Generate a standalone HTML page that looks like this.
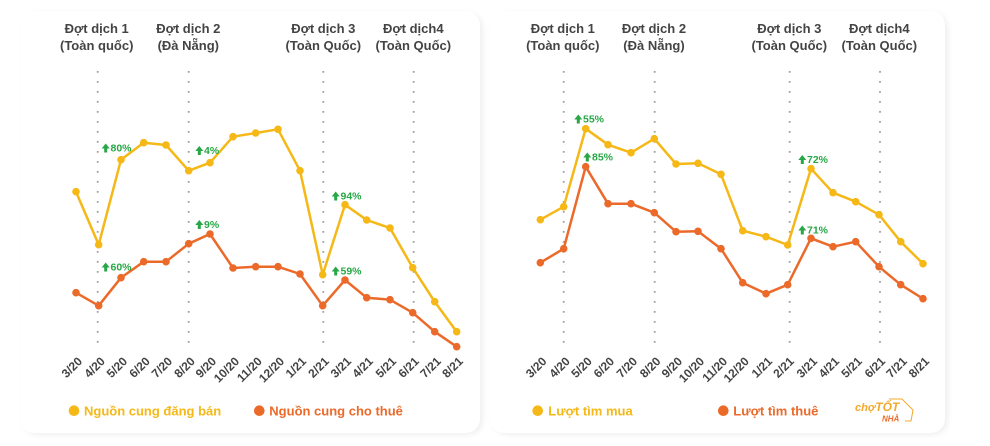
<!DOCTYPE html>
<html><head><meta charset="utf-8">
<style>
html,body{margin:0;padding:0;background:#fff;}
body{width:990px;height:446px;position:relative;overflow:hidden;font-family:"Liberation Sans","Noto Sans CJK SC",sans-serif;}
.card{position:absolute;background:#fff;border-radius:14px;box-shadow:3px 2px 7px -1px rgba(0,0,0,0.08);}
svg{position:absolute;left:0;top:0;}
</style></head>
<body>
<div class="card" style="left:20px;top:11px;width:460px;height:422px;"></div>
<div class="card" style="left:490px;top:11px;width:455px;height:422px;"></div>
<svg width="990" height="446" viewBox="0 0 990 446" xmlns="http://www.w3.org/2000/svg">
<defs>
<g id="up"><path d="M0,0 L4,-5 L8,0 L5.5,0 L5.5,4 L2.5,4 L2.5,0 Z" fill="#27a745"/></g>
</defs>
<g font-family="Liberation Sans, sans-serif" font-weight="bold" font-size="13" fill="#444" text-anchor="middle">
<text x="96.7" y="33">Đợt dịch 1</text><text x="96.7" y="50">(Toàn quốc)</text>
<text x="188.3" y="33">Đợt dịch 2</text><text x="188.3" y="50">(Đà Nẵng)</text>
<text x="323.3" y="33">Đợt dịch 3</text><text x="323.3" y="50">(Toàn Quốc)</text>
<text x="413.3" y="33">Đợt dịch4</text><text x="413.3" y="50">(Toàn Quốc)</text>
<text x="562.8" y="33">Đợt dịch 1</text><text x="562.8" y="50">(Toàn quốc)</text>
<text x="654" y="33">Đợt dịch 2</text><text x="654" y="50">(Đà Nẵng)</text>
<text x="789.3" y="33">Đợt dịch 3</text><text x="789.3" y="50">(Toàn Quốc)</text>
<text x="879.3" y="33">Đợt dịch4</text><text x="879.3" y="50">(Toàn Quốc)</text>
</g>
<g stroke="#a0a0a0" stroke-width="1.8" stroke-dasharray="1.8 8.2" fill="none">
<line x1="97.7" y1="71" x2="97.7" y2="348"/>
<line x1="188.7" y1="71" x2="188.7" y2="348"/>
<line x1="323.3" y1="71" x2="323.3" y2="348"/>
<line x1="413.7" y1="71" x2="413.7" y2="348"/>
<line x1="563.7" y1="71" x2="563.7" y2="348"/>
<line x1="654.7" y1="71" x2="654.7" y2="348"/>
<line x1="789.7" y1="71" x2="789.7" y2="348"/>
<line x1="880" y1="71" x2="880" y2="348"/>
</g>
<!-- Left chart -->
<polyline fill="none" stroke="#f5b816" stroke-width="2.5" stroke-linejoin="round" points="76,191.7 98.7,244.7 121,159.7 143.7,142.7 166,145 188.7,170.7 210,162.7 233,136.7 255.7,133 278,129.3 300,170.7 322.7,274.7 345,204.7 366.7,220 390,228 412.7,267.7 434.7,301.7 456.7,331.7"/>
<g fill="#f5b816">
<circle cx="76" cy="191.7" r="3.8"/><circle cx="98.7" cy="244.7" r="3.8"/><circle cx="121" cy="159.7" r="3.8"/><circle cx="143.7" cy="142.7" r="3.8"/><circle cx="166" cy="145" r="3.8"/><circle cx="188.7" cy="170.7" r="3.8"/><circle cx="210" cy="162.7" r="3.8"/><circle cx="233" cy="136.7" r="3.8"/><circle cx="255.7" cy="133" r="3.8"/><circle cx="278" cy="129.3" r="3.8"/><circle cx="300" cy="170.7" r="3.8"/><circle cx="322.7" cy="274.7" r="3.8"/><circle cx="345" cy="204.7" r="3.8"/><circle cx="366.7" cy="220" r="3.8"/><circle cx="390" cy="228" r="3.8"/><circle cx="412.7" cy="267.7" r="3.8"/><circle cx="434.7" cy="301.7" r="3.8"/><circle cx="456.7" cy="331.7" r="3.8"/>
</g>
<polyline fill="none" stroke="#eb6a2a" stroke-width="2.5" stroke-linejoin="round" points="76,292.7 98.7,305.7 121,277.7 143.7,261.7 166,261.7 188.7,243.7 210,234 233,268 255.7,266.7 278,266.7 300,274 322.7,305.7 345,280 366.7,297.7 390,299.7 412.7,312.7 434.7,331.7 456.7,346.7"/>
<g fill="#eb6a2a">
<circle cx="76" cy="292.7" r="3.8"/><circle cx="98.7" cy="305.7" r="3.8"/><circle cx="121" cy="277.7" r="3.8"/><circle cx="143.7" cy="261.7" r="3.8"/><circle cx="166" cy="261.7" r="3.8"/><circle cx="188.7" cy="243.7" r="3.8"/><circle cx="210" cy="234" r="3.8"/><circle cx="233" cy="268" r="3.8"/><circle cx="255.7" cy="266.7" r="3.8"/><circle cx="278" cy="266.7" r="3.8"/><circle cx="300" cy="274" r="3.8"/><circle cx="322.7" cy="305.7" r="3.8"/><circle cx="345" cy="280" r="3.8"/><circle cx="366.7" cy="297.7" r="3.8"/><circle cx="390" cy="299.7" r="3.8"/><circle cx="412.7" cy="312.7" r="3.8"/><circle cx="434.7" cy="331.7" r="3.8"/><circle cx="456.7" cy="346.7" r="3.8"/>
</g>
<!-- Right chart -->
<polyline fill="none" stroke="#f5b816" stroke-width="2.5" stroke-linejoin="round" points="540.3,219.7 563.7,206.7 585.7,128.7 608,144.7 631,152.7 654.3,138.7 676,164 698,163.3 721,174.3 742.7,230.7 766,236.7 787.7,245 811,168.7 833,192.7 855.7,201.7 879,214.7 900.7,241.7 923,263.7"/>
<g fill="#f5b816">
<circle cx="540.3" cy="219.7" r="3.8"/><circle cx="563.7" cy="206.7" r="3.8"/><circle cx="585.7" cy="128.7" r="3.8"/><circle cx="608" cy="144.7" r="3.8"/><circle cx="631" cy="152.7" r="3.8"/><circle cx="654.3" cy="138.7" r="3.8"/><circle cx="676" cy="164" r="3.8"/><circle cx="698" cy="163.3" r="3.8"/><circle cx="721" cy="174.3" r="3.8"/><circle cx="742.7" cy="230.7" r="3.8"/><circle cx="766" cy="236.7" r="3.8"/><circle cx="787.7" cy="245" r="3.8"/><circle cx="811" cy="168.7" r="3.8"/><circle cx="833" cy="192.7" r="3.8"/><circle cx="855.7" cy="201.7" r="3.8"/><circle cx="879" cy="214.7" r="3.8"/><circle cx="900.7" cy="241.7" r="3.8"/><circle cx="923" cy="263.7" r="3.8"/>
</g>
<polyline fill="none" stroke="#eb6a2a" stroke-width="2.5" stroke-linejoin="round" points="540.3,262.7 563.7,248.7 585.7,166.7 608,203.7 631,203.7 654.3,212.7 676,231.7 698,231.3 721,248.7 742.7,282.7 766,293.7 787.7,284.7 811,238.3 833,246.7 855.7,241.7 879,266.7 900.7,284.7 923,298.7"/>
<g fill="#eb6a2a">
<circle cx="540.3" cy="262.7" r="3.8"/><circle cx="563.7" cy="248.7" r="3.8"/><circle cx="585.7" cy="166.7" r="3.8"/><circle cx="608" cy="203.7" r="3.8"/><circle cx="631" cy="203.7" r="3.8"/><circle cx="654.3" cy="212.7" r="3.8"/><circle cx="676" cy="231.7" r="3.8"/><circle cx="698" cy="231.3" r="3.8"/><circle cx="721" cy="248.7" r="3.8"/><circle cx="742.7" cy="282.7" r="3.8"/><circle cx="766" cy="293.7" r="3.8"/><circle cx="787.7" cy="284.7" r="3.8"/><circle cx="811" cy="238.3" r="3.8"/><circle cx="833" cy="246.7" r="3.8"/><circle cx="855.7" cy="241.7" r="3.8"/><circle cx="879" cy="266.7" r="3.8"/><circle cx="900.7" cy="284.7" r="3.8"/><circle cx="923" cy="298.7" r="3.8"/>
</g>
<!-- annotations -->
<g font-family="Liberation Sans, sans-serif" font-weight="bold" font-size="10.5" fill="#27a745">
<use href="#up" x="101.7" y="148.5"/><text x="110.5" y="151.5">80%</text>
<use href="#up" x="195.3" y="151"/><text x="204" y="154">4%</text>
<use href="#up" x="331.7" y="196.5"/><text x="340.5" y="199.5">94%</text>
<use href="#up" x="195.3" y="225"/><text x="204" y="228">9%</text>
<use href="#up" x="101.7" y="267.5"/><text x="110.5" y="270.5">60%</text>
<use href="#up" x="331.7" y="271.5"/><text x="340.5" y="274.5">59%</text>
<use href="#up" x="574.3" y="119.5"/><text x="583" y="122.5">55%</text>
<use href="#up" x="583.3" y="157.5"/><text x="592" y="160.5">85%</text>
<use href="#up" x="798.3" y="160"/><text x="807" y="163">72%</text>
<use href="#up" x="798.3" y="230.5"/><text x="807" y="233.5">71%</text>
</g>
<!-- tick labels -->
<g font-family="Liberation Sans, sans-serif" font-weight="bold" font-size="12" fill="#444" text-anchor="end">
<text transform="translate(83,362) rotate(-45)">3/20</text>
<text transform="translate(105.7,362) rotate(-45)">4/20</text>
<text transform="translate(128,362) rotate(-45)">5/20</text>
<text transform="translate(150.7,362) rotate(-45)">6/20</text>
<text transform="translate(173,362) rotate(-45)">7/20</text>
<text transform="translate(195.7,362) rotate(-45)">8/20</text>
<text transform="translate(217,362) rotate(-45)">9/20</text>
<text transform="translate(240,362) rotate(-45)">10/20</text>
<text transform="translate(262.7,362) rotate(-45)">11/20</text>
<text transform="translate(285,362) rotate(-45)">12/20</text>
<text transform="translate(307,362) rotate(-45)">1/21</text>
<text transform="translate(329.7,362) rotate(-45)">2/21</text>
<text transform="translate(352,362) rotate(-45)">3/21</text>
<text transform="translate(373.7,362) rotate(-45)">4/21</text>
<text transform="translate(397,362) rotate(-45)">5/21</text>
<text transform="translate(419.7,362) rotate(-45)">6/21</text>
<text transform="translate(441.7,362) rotate(-45)">7/21</text>
<text transform="translate(463.7,362) rotate(-45)">8/21</text>
<text transform="translate(547.3,362) rotate(-45)">3/20</text>
<text transform="translate(570.7,362) rotate(-45)">4/20</text>
<text transform="translate(592.7,362) rotate(-45)">5/20</text>
<text transform="translate(615,362) rotate(-45)">6/20</text>
<text transform="translate(638,362) rotate(-45)">7/20</text>
<text transform="translate(661.3,362) rotate(-45)">8/20</text>
<text transform="translate(683,362) rotate(-45)">9/20</text>
<text transform="translate(705,362) rotate(-45)">10/20</text>
<text transform="translate(728,362) rotate(-45)">11/20</text>
<text transform="translate(749.7,362) rotate(-45)">12/20</text>
<text transform="translate(773,362) rotate(-45)">1/21</text>
<text transform="translate(794.7,362) rotate(-45)">2/21</text>
<text transform="translate(818,362) rotate(-45)">3/21</text>
<text transform="translate(840,362) rotate(-45)">4/21</text>
<text transform="translate(862.7,362) rotate(-45)">5/21</text>
<text transform="translate(886,362) rotate(-45)">6/21</text>
<text transform="translate(907.7,362) rotate(-45)">7/21</text>
<text transform="translate(930,362) rotate(-45)">8/21</text>
</g>
<!-- legends -->
<g font-family="Liberation Sans, sans-serif" font-weight="bold" font-size="13">
<circle cx="74" cy="410.7" r="5.3" fill="#f5b816"/><text x="84" y="415.5" fill="#f5b816">Nguồn cung đăng bán</text>
<circle cx="259.3" cy="410.7" r="5.3" fill="#eb6a2a"/><text x="269.3" y="415.5" fill="#eb6a2a">Nguồn cung cho thuê</text>
<circle cx="537.7" cy="410.7" r="5.3" fill="#f5b816"/><text x="548.3" y="415.5" fill="#f5b816">Lượt tìm mua</text>
<circle cx="723.3" cy="410.7" r="5.3" fill="#eb6a2a"/><text x="733.3" y="415.5" fill="#eb6a2a">Lượt tìm thuê</text>
</g>
<!-- logo -->
<g font-family="Liberation Sans, sans-serif" font-weight="bold" font-style="italic">
<text x="855" y="411" font-size="11" fill="#f3a92a">chợ<tspan font-size="12">TỐT</tspan></text>
<text x="882" y="421.5" font-size="8" fill="#ee6d2c">NHÀ</text>
<path d="M889,399 L902,399 L913,410 L911,421 L905,421" fill="none" stroke="#f3a92a" stroke-width="1"/>
</g>
</svg>
</body></html>
